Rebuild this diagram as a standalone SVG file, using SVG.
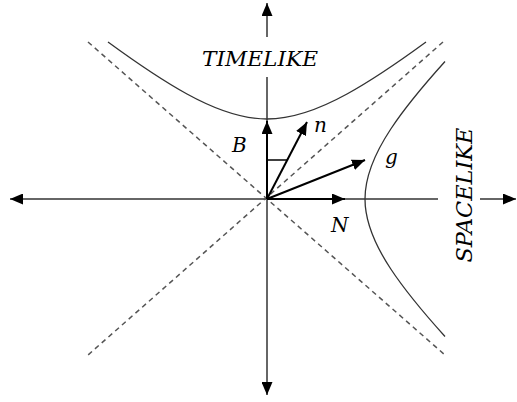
<svg xmlns="http://www.w3.org/2000/svg" width="517" height="402" viewBox="0 0 517 402">
<style>
.axis{stroke:#666;stroke-width:2;fill:none}
.hyp{stroke:#333;stroke-width:1.3;fill:none}
.dash{stroke:#555;stroke-width:1.5;stroke-dasharray:5 4;fill:none}
.vec{stroke:#000;stroke-width:2;fill:none}
.lbl{font-family:"DejaVu Serif","Liberation Serif",serif;font-style:italic;font-size:20px;fill:#000}
.big{font-family:"DejaVu Serif","Liberation Serif",serif;font-style:italic;fill:#000}
</style>
<defs>
<marker id="ah" markerUnits="userSpaceOnUse" markerWidth="13" markerHeight="11" refX="13" refY="5.5" orient="auto">
<path d="M0,0 L13,5.5 L0,11 z" fill="#000"/>
</marker>
</defs>
<g id="connectors">
<line class="axis" x1="267" y1="37" x2="267" y2="3" marker-end="url(#ah)"/>
<line class="axis" x1="267" y1="77" x2="267" y2="395" marker-end="url(#ah)"/>
<line class="axis" x1="438" y1="199" x2="10" y2="199" marker-end="url(#ah)"/>
<line class="axis" x1="480" y1="199" x2="516" y2="199" marker-end="url(#ah)"/>
<line class="dash" x1="88" y1="42" x2="445" y2="355"/>
<line class="dash" x1="443" y1="42" x2="88" y2="355"/>
<path class="hyp" d="M108,42 C134.33,61.25 160.67,79.52 187,94 C213.67,108.67 240.33,119 267,119 C293.67,119 320.33,108.67 347,94 C373.33,79.52 399.67,61.25 426,42"/>
<path class="hyp" d="M445,336.5 C424.7,314 405.65,291.5 390.8,269 C375.4,245.67 365,222.33 365,199 C365,175.67 375.4,152.33 390.8,129 C405.65,106.5 424.7,84 445,61.5"/>
<line class="vec" x1="267" y1="199" x2="267" y2="121" marker-end="url(#ah)"/>
<line class="vec" x1="267" y1="199" x2="307" y2="122" marker-end="url(#ah)"/>
<line class="vec" x1="267" y1="199" x2="365" y2="160" marker-end="url(#ah)"/>
<line class="vec" x1="267" y1="199" x2="345" y2="199" marker-end="url(#ah)"/>
<line x1="267" y1="160" x2="287" y2="160" stroke="#000" stroke-width="1.5"/>
</g>
<g id="timelike"><text class="big" x="202" y="66" font-size="21" textLength="116" lengthAdjust="spacingAndGlyphs">TIMELIKE</text></g>
<g id="spacelike"><text class="big" font-size="22" text-anchor="middle" textLength="135" lengthAdjust="spacingAndGlyphs" transform="translate(472,195) rotate(-90)">SPACELIKE</text></g>
<g id="label-B"><text class="lbl" x="232" y="152">B</text></g>
<g id="label-n"><text class="lbl" x="314" y="132">n</text></g>
<g id="label-g"><text class="lbl" x="385" y="164">g</text></g>
<g id="label-N"><text class="lbl" x="331" y="232">N</text></g>
</svg>
